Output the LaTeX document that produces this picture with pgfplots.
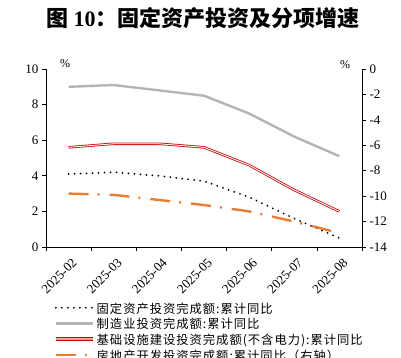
\documentclass[border=0pt]{standalone}
\usepackage{pgfplots}
\pgfplotsset{compat=1.18}
\usepackage{fontspec}
\setmainfont{Liberation Serif}
\newfontfamily\cjk{Noto Sans CJK SC}
\newfontfamily\cjkl{Noto Sans CJK SC}[LetterSpace=8]
\definecolor{grayl}{HTML}{B4B4B4}
\definecolor{redl}{HTML}{D00000}
\definecolor{orangel}{HTML}{ED7D31}
\begin{document}
\begin{tikzpicture}[x=1pt,y=1pt]
\pgfplotsset{
  common/.style={
    width=316pt, height=178pt, scale only axis,
    xmin=-0.5, xmax=6.5,
    /pgf/number format/assume math mode=true,
    tick label style={font=\fontsize{13}{15}\selectfont},
    tick align=outside, major tick length=4pt,
    tick style={black, line width=0.6pt},
    axis line style={line width=0.8pt},
  }
}
\begin{axis}[common,
  ymin=0, ymax=10, ytick={0,2,...,10},
  axis x line*=bottom, axis y line*=left,
  xtick={-0.5,0.5,...,6.5}, xticklabels={},
  extra x ticks={0,...,6},
  extra x tick labels={2025-02,2025-03,2025-04,2025-05,2025-06,2025-07,2025-08},
  extra x tick style={major tick length=0pt, tick label style={rotate=45, anchor=north east, yshift=-6pt, xshift=-2pt, font=\fontsize{13}{15}\selectfont}},
  legend style={at={(0.025,-0.30)}, anchor=north west, draw=none, fill=none,
    font=\cjkl\fontsize{12.3}{14}\selectfont, row sep=1.2pt, inner sep=0pt,
    nodes={inner sep=2pt, text depth=0pt}},
  legend cell align=left,
  legend image code/.code={\draw[#1] (0pt,0pt) -- (37pt,0pt);},
]
\addplot[black, line width=2pt, line cap=round, dash pattern=on 0pt off 6pt]
  coordinates {(0,4.1) (1,4.2) (2,4.0) (3,3.7) (4,2.8) (5,1.6) (6,0.5)};
\addlegendentry{固定资产投资完成额:累计同比}
\addplot[grayl, line width=2.4pt]
  coordinates {(0,9.0) (1,9.1) (2,8.8) (3,8.5) (4,7.5) (5,6.2) (6,5.1)};
\addlegendentry{制造业投资完成额:累计同比}
\addplot[redl, line width=0.8pt, double=white, double distance=0.9pt, forget plot]
  coordinates {(0,5.6) (1,5.8) (2,5.8) (3,5.6) (4,4.6) (5,3.2) (6,2.0)};
\addlegendimage{legend image code/.code={%
  \draw[redl, line width=3.6pt] (0pt,0pt) -- (37pt,0pt);
  \draw[red!40, line width=1.4pt] (0pt,0pt) -- (37pt,0pt);}}
\addlegendentry{基础设施建设投资完成额(不含电力):累计同比}
\addlegendimage{orangel, line width=2.4pt, dash pattern=on 20pt off 9pt on 2pt off 10pt}
\addlegendentry{房地产开发投资完成额:累计同比（右轴）}
\end{axis}
\begin{axis}[common,
  ymin=-14, ymax=0, ytick={-14,-12,...,0},
  axis y line*=right, axis x line=none,
]
\addplot[orangel, line width=2.4pt, dash pattern=on 20pt off 9pt on 2pt off 10pt]
  coordinates {(0,-9.8) (1,-9.9) (2,-10.3) (3,-10.7) (4,-11.2) (5,-12.0) (6,-12.9)};
\end{axis}
\node at (19,183) {\fontsize{12}{14}\selectfont\%};
\node at (299,182) {\fontsize{12}{14}\selectfont\%};
\node at (157,229) {\fontsize{22}{26}\selectfont{\cjk\bfseries 图} \textbf{10}{\cjk\bfseries ：固定资产投资及分项增速}};
\pgfresetboundingbox
\path[use as bounding box] (-46,-111) rectangle (355,247);
\end{tikzpicture}
\end{document}
